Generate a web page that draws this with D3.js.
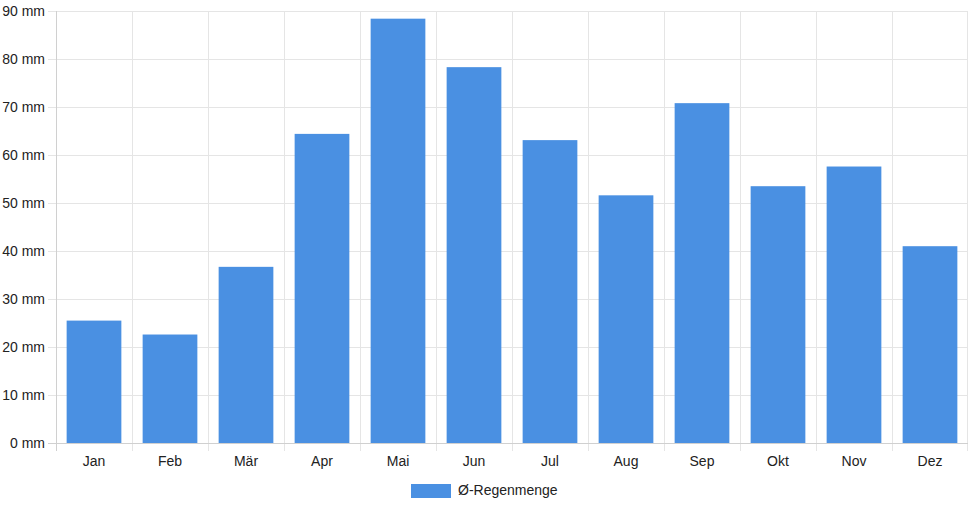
<!DOCTYPE html>
<meta charset="utf-8">
<title>Regenmenge</title>
<style>
body { margin: 0; background: #fff; }
svg { display: block; font-family: "Liberation Sans", Arial, Helvetica, sans-serif; }
.grid line { stroke: #e5e5e5; stroke-width: 1; shape-rendering: crispEdges; }
.tick-label { fill: #222; font-size: 14px; }
</style>
<body>
<script src="https://d3js.org/d3.v7.min.js"></script>
<script>

var months = ["Jan","Feb","Mär","Apr","Mai","Jun","Jul","Aug","Sep","Okt","Nov","Dez"];
var rain = [25.5, 22.6, 36.7, 64.4, 88.4, 78.3, 63.1, 51.6, 70.8, 53.5, 57.6, 41.0];
var yTicks = [0, 10, 20, 30, 40, 50, 60, 70, 80, 90];
var seriesName = "Ø-Regenmenge";

var width = 968;
var height = 508;
// note: "top" is window.top, so use other names
var plotL = 56, plotR = 968, plotT = 11, plotB = 443;
var barColor = "#4a90e2";

var svg = d3.select("body").append("svg")
    .attr("width", width)
    .attr("height", height);

var x = d3.scaleBand()
    .domain(months)
    .range([plotL, plotR])
    .paddingInner(0.28)
    .paddingOuter(0.14);

var y = d3.scaleLinear()
    .domain([0, 90])
    .range([plotB, plotT]);

var step = x.step();
var x0 = x.range()[0];

// grid - horizontal lines with left tick marks
var grid = svg.append("g").attr("class", "grid");
grid.selectAll("line.h")
  .data(yTicks)
  .enter().append("line")
    .attr("class", "h")
    .attr("x1", plotL - 8)
    .attr("x2", plotR)
    .attr("y1", function(d) { return Math.round(y(d)) + 0.5; })
    .attr("y2", function(d) { return Math.round(y(d)) + 0.5; });

// vertical lines at category borders, going down a bit as ticks
grid.selectAll("line.v")
  .data(d3.range(months.length + 1))
  .enter().append("line")
    .attr("class", "v")
    .attr("x1", function(i) { return Math.min(Math.round(x0 + i*step), plotR - 1) + 0.5; })
    .attr("x2", function(i) { return Math.min(Math.round(x0 + i*step), plotR - 1) + 0.5; })
    .attr("y1", plotT)
    .attr("y2", plotB + 8);

// axis lines a little darker
svg.append("line")
    .attr("x1", plotL + 0.5).attr("x2", plotL + 0.5)
    .attr("y1", plotT).attr("y2", plotB + 8)
    .attr("stroke", "#d0d0d0").attr("shape-rendering", "crispEdges");
svg.append("line")
    .attr("x1", plotL - 8).attr("x2", plotR)
    .attr("y1", plotB + 0.5).attr("y2", plotB + 0.5)
    .attr("stroke", "#d0d0d0").attr("shape-rendering", "crispEdges");

// bars
svg.append("g")
  .selectAll("rect")
  .data(rain)
  .enter().append("rect")
    .attr("x", function(d, i) { return x(months[i]); })
    .attr("width", x.bandwidth())
    .attr("y", function(d) { return y(d); })
    .attr("height", function(d) { return plotB - y(d); })
    .attr("fill", barColor);

// y labels
svg.append("g")
  .selectAll("text")
  .data(yTicks)
  .enter().append("text")
    .attr("class", "tick-label")
    .attr("x", 45)
    .attr("y", function(d) { return y(d); })
    .attr("dy", "0.35em")
    .attr("text-anchor", "end")
    .text(function(d) { return d + " mm"; });

// x labels
svg.append("g")
  .selectAll("text")
  .data(months)
  .enter().append("text")
    .attr("class", "tick-label")
    .attr("x", function(d) { return x(d) + x.bandwidth()/2; })
    .attr("y", 466)
    .attr("text-anchor", "middle")
    .text(function(d) { return d; });

// legend
svg.append("rect")
    .attr("x", 411).attr("y", 484)
    .attr("width", 40).attr("height", 14)
    .attr("fill", barColor);
svg.append("text")
    .attr("class", "tick-label")
    .attr("x", 458).attr("y", 495)
    .text(seriesName);

</script>
